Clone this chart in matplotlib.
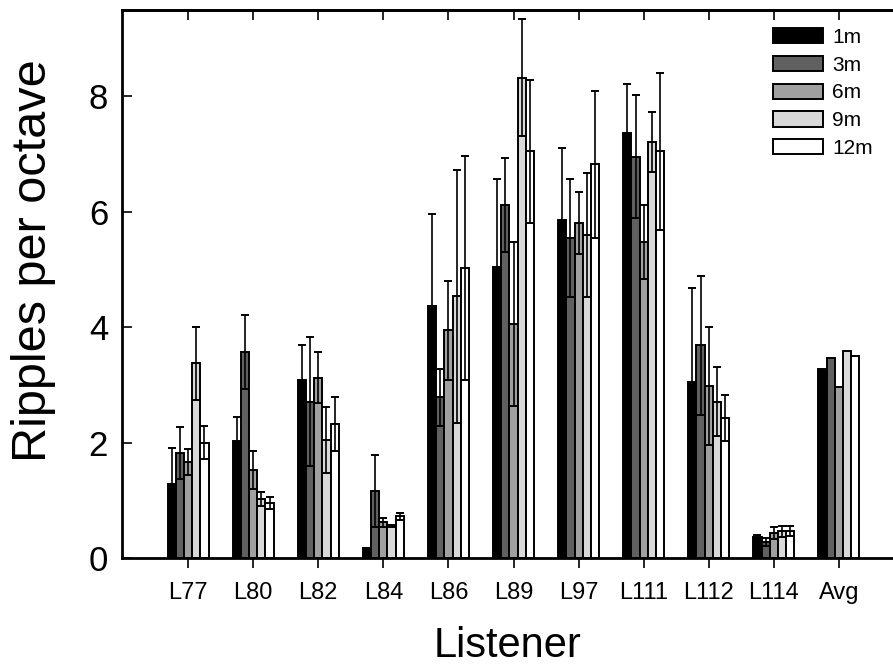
import numpy as np
import matplotlib
matplotlib.use('Agg')
from matplotlib import pyplot as plt

listeners = ['L77', 'L80', 'L82', 'L84', 'L86', 'L89', 'L97',
             'L111', 'L112', 'L114', 'Avg']
distances = ['1m', '3m', '6m', '9m', '12m']

# mean ripples per octave, one list per distance
m1 = [1.29, 2.03, 3.08, 0.18, 4.36, 5.04, 5.85, 7.36, 3.04, 0.37, 3.27]
m3 = [1.81, 3.57, 2.71, 1.16, 2.78, 6.11, 5.54, 6.95, 3.68, 0.28, 3.46]
m6 = [1.66, 1.52, 3.12, 0.62, 3.94, 4.06, 5.80, 5.47, 2.98, 0.43, 2.96]
m9 = [3.37, 1.02, 2.04, 0.56, 4.53, 8.32, 5.59, 7.20, 2.71, 0.46, 3.58]
m12 = [2.00, 0.95, 2.32, 0.72, 5.02, 7.04, 6.82, 7.04, 2.42, 0.47, 3.49]

# error bars (no error shown for Avg)
e1 = [0.62, 0.41, 0.61, 0.00, 1.59, 1.52, 1.25, 0.85, 1.63, 0.02, 0]
e3 = [0.45, 0.64, 1.11, 0.62, 0.49, 0.81, 1.02, 1.07, 1.21, 0.07, 0]
e6 = [0.23, 0.33, 0.44, 0.08, 0.85, 1.42, 0.53, 0.64, 1.02, 0.10, 0]
e9 = [0.63, 0.12, 0.57, 0.02, 2.19, 1.01, 1.07, 0.52, 0.60, 0.09, 0]
e12 = [0.29, 0.11, 0.46, 0.06, 1.94, 1.24, 1.27, 1.36, 0.40, 0.09, 0]

means = [m1, m3, m6, m9, m12]
errs = [e1, e3, e6, e9, e12]
colors = ['#000000', '#606060', '#a0a0a0', '#d9d9d9', '#ffffff']

plt.rcParams['font.family'] = ['Liberation Sans', 'DejaVu Sans']

fig = plt.figure(figsize=(8.93, 6.67), dpi=100)
ax = fig.add_axes([122 / 893, 1 - 558 / 667, 1 - 122 / 893, (558 - 10) / 667])

x = np.arange(len(listeners))
w = 0.126
for k in range(len(distances)):
    pos = x + (k - 2) * w
    ax.bar(pos, means[k], width=w, color=colors[k], edgecolor='black',
           linewidth=1.4, label=distances[k], zorder=2)
    err = np.array(errs[k])
    has = err > 0
    ax.errorbar(pos[has], np.array(means[k])[has], yerr=err[has], fmt='none',
                ecolor='black', elinewidth=1.2, capsize=3, capthick=1.4,
                zorder=3)

ax.set_xlim(-1.015, 10.83)
ax.set_ylim(0, 9.49)
ax.set_yticks([0, 2, 4, 6, 8])
ax.set_xticks(x)
ax.set_xticklabels(listeners, fontsize=17)
ax.tick_params(axis='y', direction='in', length=7, width=1.2,
               labelsize=25, pad=10)
ax.tick_params(axis='x', direction='out', length=7, width=1.2, pad=10)

top = ax.secondary_xaxis('top')
top.set_xticks(x)
top.tick_params(direction='in', length=7, width=1.2, labeltop=False)
top.spines['top'].set_linewidth(2)

ax.spines['right'].set_visible(False)
for s in ['left', 'bottom', 'top']:
    ax.spines[s].set_linewidth(2)

ax.set_ylabel('Ripples per octave', fontsize=35)
ax.yaxis.set_label_coords(-0.085, 0.542)
ax.set_xlabel('Listener', fontsize=30, labelpad=16)

ax.legend(loc='upper left', bbox_to_anchor=((773 - 122) / 771, (558 - 28) / 548),
          bbox_transform=ax.transAxes, frameon=False, fontsize=15,
          handlelength=2.4, handleheight=0.75, labelspacing=0.42,
          handletextpad=0.45, borderaxespad=0, borderpad=0)

plt.savefig('out.png', dpi=100)
